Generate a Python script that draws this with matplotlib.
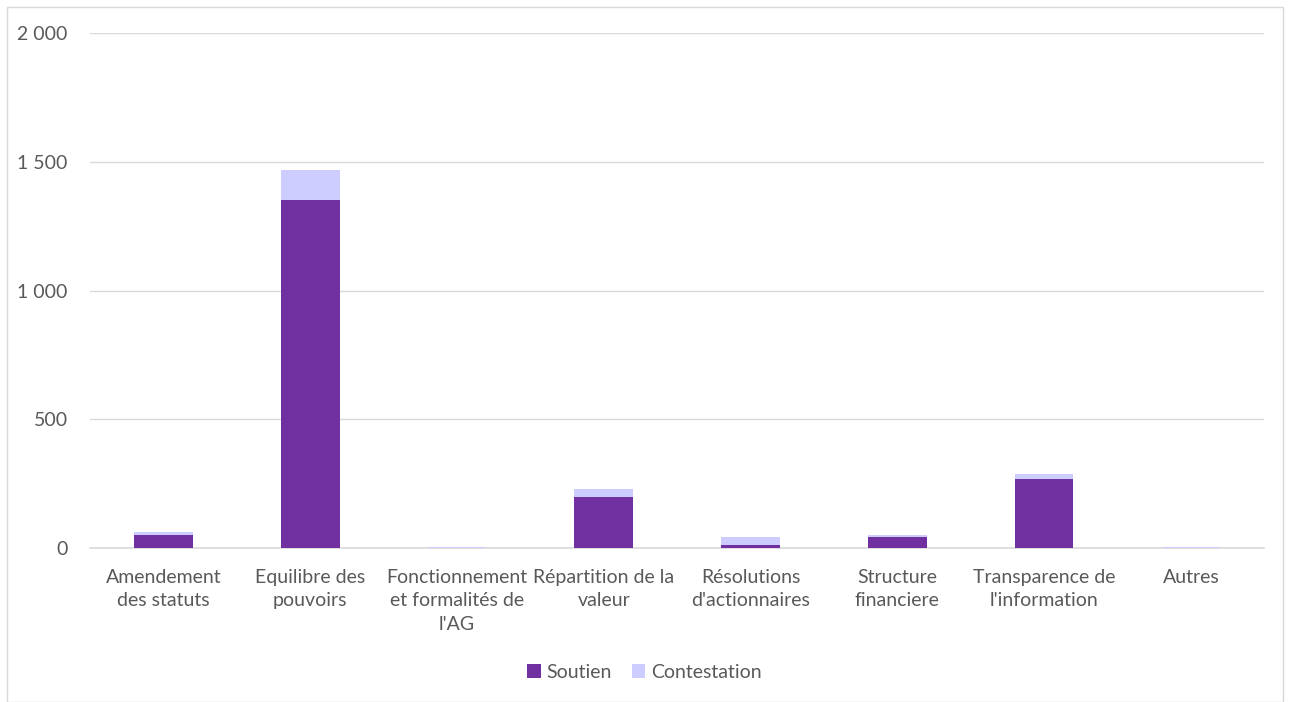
import numpy as np
import matplotlib.pyplot as plt
from matplotlib.patches import Rectangle
from matplotlib.ticker import FuncFormatter

categories = ["Amendement\ndes statuts", "Equilibre des\npouvoirs",
              "Fonctionnement\net formalités de\nl'AG", "Répartition de la\nvaleur",
              "Résolutions\nd'actionnaires", "Structure\nfinanciere",
              "Transparence de\nl'information", "Autres"]
soutien = [50, 1350, 1, 200, 12, 44, 270, 2]
contestation = [12, 120, 2, 30, 32, 6, 18, 2]

plt.rcParams['font.family'] = ['Lato', 'DejaVu Sans']
txt = '#595959'

fig = plt.figure(figsize=(12.89, 7.02), dpi=100)
ax = fig.add_axes([0.0698, 0.219, 0.911, 0.734])

x = np.arange(len(categories))
ax.bar(x, soutien, width=0.4, color='#7030A0', label='Soutien', zorder=3)
ax.bar(x, contestation, width=0.4, bottom=soutien, color='#CCCCFF', label='Contestation', zorder=3)

ax.set_xlim(-0.5, len(categories) - 0.5)
ax.set_ylim(0, 2000)
ax.set_yticks(np.arange(0, 2001, 500))
ax.yaxis.set_major_formatter(FuncFormatter(lambda v, p: f"{int(v):,}".replace(",", " ")))
ax.set_xticks(x)
ax.set_xticklabels(categories, fontsize=14, color=txt, linespacing=1.45)
ax.tick_params(axis='both', length=0, labelsize=14, colors=txt)
ax.tick_params(axis='y', pad=16)
ax.tick_params(axis='x', pad=15)
ax.grid(axis='y', color='#D9D9D9', linewidth=1, zorder=0)
for s in ['top', 'right', 'left']:
    ax.spines[s].set_visible(False)
ax.spines['bottom'].set_color('#D9D9D9')
ax.spines['bottom'].set_linewidth(1.2)

leg = ax.legend(loc='center', ncol=2, frameon=False,
                fontsize=14, handlelength=0.7, handleheight=0.7, columnspacing=1.0, handletextpad=0.3)
leg.set_bbox_to_anchor((0.5, 1 - 672 / 702), transform=fig.transFigure)
for t in leg.get_texts():
    t.set_color(txt)

fig.patches.append(Rectangle((7 / 1289, 0), 1 - 13 / 1289, 1 - 7 / 702, transform=fig.transFigure,
                             fill=False, edgecolor='#D9D9D9', linewidth=1))

fig.savefig('out.png', dpi=100)
